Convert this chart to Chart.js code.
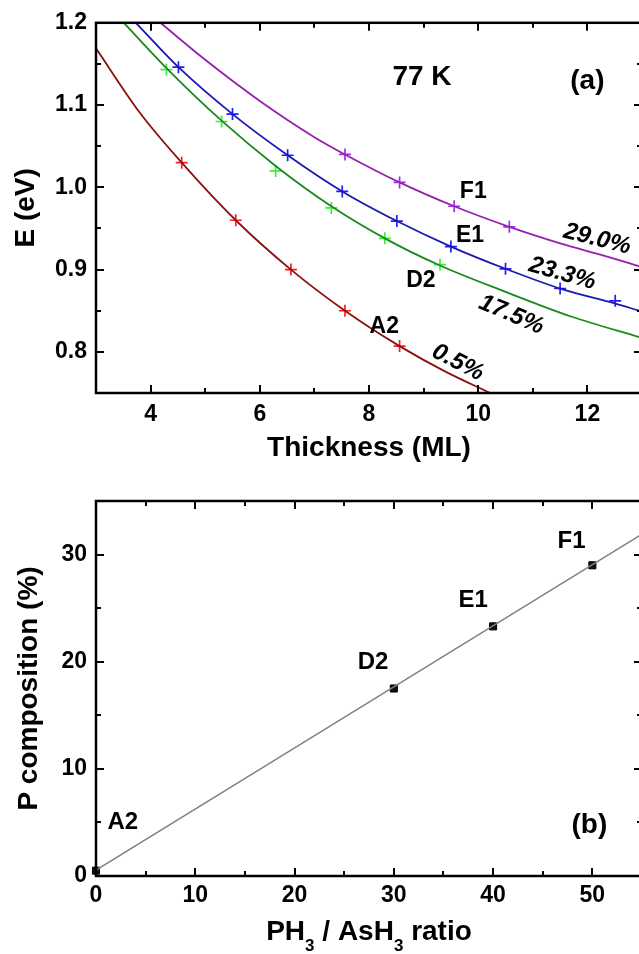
<!DOCTYPE html>
<html>
<head>
<meta charset="utf-8">
<script src="https://cdn.jsdelivr.net/npm/chart.js@4.4.0/dist/chart.umd.min.js"></script>
<style>
	html, body { margin: 0; padding: 0; background: #fff; overflow: hidden; }
	#topChart { position: absolute; left: 0; top: 0; }
	#bottomChart { position: absolute; left: 0; top: 470px; }
</style>
</head>
<body>
<canvas id="topChart" width="642" height="470"></canvas>
<canvas id="bottomChart" width="642" height="484"></canvas>
<script>
// ---- panel (a): transition energy vs thickness, 77 K ----
// fitted curves
var a2CurveX = [3, 3.8, 4.57, 5.56, 6.57, 7.56, 8.56, 9.4, 10.22];
var a2CurveE = [1.169, 1.091, 1.030, 0.960, 0.900, 0.850, 0.807, 0.776, 0.750];
var d2CurveX = [3.51, 4.29, 5.3, 6.29, 7.31, 8.29, 9.3, 10.5, 11.7, 12.95];
var d2CurveE = [1.2, 1.145, 1.081, 1.026, 0.977, 0.938, 0.905, 0.873, 0.843, 0.818];
var e1CurveX = [3.73, 4.51, 5.5, 6.51, 7.51, 8.51, 9.5, 10.5, 11.5, 12.5, 12.95];
var e1CurveE = [1.2, 1.146, 1.089, 1.039, 0.995, 0.959, 0.928, 0.901, 0.877, 0.859, 0.850];
var f1CurveX = [4.18, 5, 6, 7, 7.56, 8.56, 9.56, 10.57, 11.5, 12.3, 12.95];
var f1CurveE = [1.2, 1.155, 1.105, 1.061, 1.040, 1.006, 0.977, 0.952, 0.932, 0.917, 0.904];

// measured points (crosses)
var a2PtX = [4.57, 5.56, 6.57, 7.56, 8.56];
var a2PtE = [1.030, 0.960, 0.900, 0.850, 0.807];
var d2PtX = [4.29, 5.30, 6.29, 7.31, 8.29, 9.30];
var d2PtE = [1.143, 1.080, 1.020, 0.975, 0.938, 0.906];
var e1PtX = [4.51, 5.50, 6.51, 7.51, 8.51, 9.50, 10.50, 11.5, 12.51];
var e1PtE = [1.146, 1.089, 1.039, 0.995, 0.959, 0.928, 0.901, 0.877, 0.862];
var f1PtX = [7.56, 8.56, 9.56, 10.57];
var f1PtE = [1.040, 1.006, 0.977, 0.952];

var thickTicks = [4, 6, 8, 10, 12];
var thickMinor = [5, 7, 9, 11];
var energyTicks = [0.8, 0.9, 1.0, 1.1, 1.2];
var energyMinor = [0.85, 0.95, 1.05, 1.15];

// ---- panel (b): P composition vs PH3/AsH3 ratio ----
var sampleNames = ['A2', 'D2', 'E1', 'F1'];
var ratioVals = [0, 30, 40, 50];
var pCompVals = [0.5, 17.5, 23.3, 29.0];
var fitRatio = [0, 55];
var fitPComp = [0.55, 31.9];

var ratioTicks = [0, 10, 20, 30, 40, 50];
var ratioMinor = [5, 15, 25, 35, 45];
var pTicks = [0, 10, 20, 30];
var pMinor = [5, 15, 25];

var FONT = "'Liberation Sans', Arial, sans-serif";

function pairs(xs, ys) {
	return xs.map(function (x, i) { return {x: x, y: ys[i]}; });
}

function fixedTicks(list) {
	return function (scale) {
		scale.ticks = list.map(function (v) { return {value: v}; });
	};
}

// box frame with inward ticks on all four sides
var frameTicks = {
	id: 'frameTicks',
	afterDraw: function (chart, args, opts) {
		var ctx = chart.ctx, a = chart.chartArea;
		var xs = chart.scales.x, ys = chart.scales.y;
		ctx.save();
		ctx.strokeStyle = '#000';
		ctx.lineWidth = 2;
		function seg(x1, y1, x2, y2) {
			ctx.beginPath(); ctx.moveTo(x1, y1); ctx.lineTo(x2, y2); ctx.stroke();
		}
		function xTicks(vals, len) {
			vals.forEach(function (v) {
				var p = Math.round(xs.getPixelForValue(v));
				seg(p, a.bottom, p, a.bottom - len);
				seg(p, a.top, p, a.top + len);
			});
		}
		function yTicks(vals, len) {
			vals.forEach(function (v) {
				var p = Math.round(ys.getPixelForValue(v));
				seg(a.left, p, a.left + len, p);
				seg(a.right, p, a.right - len, p);
			});
		}
		xTicks(opts.xMajor, 8); xTicks(opts.xMinor, 5);
		yTicks(opts.yMajor, 8); yTicks(opts.yMinor, 5);
		ctx.lineWidth = 2.5;
		ctx.strokeRect(a.left, a.top, a.right - a.left, a.bottom - a.top);
		ctx.restore();
	}
};

// free text placed in data coordinates
var textNotes = {
	id: 'textNotes',
	afterDraw: function (chart, args, opts) {
		var ctx = chart.ctx, xs = chart.scales.x, ys = chart.scales.y;
		(opts.items || []).forEach(function (n) {
			ctx.save();
			ctx.translate(xs.getPixelForValue(n.x), ys.getPixelForValue(n.y));
			if (n.angle) ctx.rotate(n.angle * Math.PI / 180);
			ctx.font = (n.italic ? 'italic ' : '') + 'bold ' + n.size + 'px ' + FONT;
			ctx.fillStyle = '#000';
			ctx.textAlign = 'center';
			ctx.textBaseline = 'middle';
			ctx.fillText(n.text, 0, 0);
			ctx.restore();
		});
	}
};

// x title with subscripts: PH3 / AsH3 ratio
var ratioTitle = {
	id: 'ratioTitle',
	afterDraw: function (chart) {
		var ctx = chart.ctx, a = chart.chartArea;
		var parts = [['PH', 0], ['3', 1], [' / AsH', 0], ['3', 1], [' ratio', 0]];
		var big = 'bold 28px ' + FONT, small = 'bold 17px ' + FONT;
		ctx.save();
		var total = 0;
		parts.forEach(function (p) { ctx.font = p[1] ? small : big; total += ctx.measureText(p[0]).width; });
		var x = (a.left + a.right) / 2 - total / 2, base = 470;
		ctx.fillStyle = '#000';
		ctx.textBaseline = 'alphabetic';
		ctx.textAlign = 'left';
		parts.forEach(function (p) {
			ctx.font = p[1] ? small : big;
			ctx.fillText(p[0], x, p[1] ? base + 11 : base);
			x += ctx.measureText(p[0]).width;
		});
		ctx.restore();
	}
};

function tickFont() { return {family: FONT, size: 23, weight: 'bold'}; }
function titleFont() { return {family: FONT, size: 28, weight: 'bold'}; }

function curveSet(xs, ys, color) {
	return {data: pairs(xs, ys), showLine: true, borderColor: color, borderWidth: 1.8,
		pointRadius: 0, cubicInterpolationMode: 'monotone', fill: false};
}
function crossSet(xs, ys, color) {
	return {data: pairs(xs, ys), showLine: false, pointStyle: 'cross', pointRadius: 6,
		pointBorderColor: color, pointBorderWidth: 1.7, borderColor: color, clip: false};
}

new Chart(document.getElementById('topChart').getContext('2d'), {
	type: 'scatter',
	data: {
		datasets: [
			curveSet(a2CurveX, a2CurveE, '#8b1212'),
			curveSet(d2CurveX, d2CurveE, '#1a8a1a'),
			curveSet(e1CurveX, e1CurveE, '#1a1aae'),
			curveSet(f1CurveX, f1CurveE, '#9622ac'),
			crossSet(a2PtX, a2PtE, '#ff1c1c'),
			crossSet(d2PtX, d2PtE, '#3cf03c'),
			crossSet(e1PtX, e1PtE, '#1f1fff'),
			crossSet(f1PtX, f1PtE, '#9b30f0')
		]
	},
	plugins: [frameTicks, textNotes],
	options: {
		responsive: false,
		animation: false,
		events: [],
		layout: {autoPadding: false, padding: {top: 19, left: 0, right: 0, bottom: 0}},
		plugins: {
			legend: {display: false},
			tooltip: {enabled: false},
			frameTicks: {xMajor: thickTicks, xMinor: thickMinor, yMajor: energyTicks, yMinor: energyMinor},
			textNotes: {items: [
				{text: '77 K', x: 8.97, y: 1.134, size: 28},
				{text: '(a)', x: 12.0, y: 1.129, size: 28},
				{text: 'F1', x: 9.91, y: 0.995, size: 23},
				{text: 'E1', x: 9.85, y: 0.941, size: 23},
				{text: 'D2', x: 8.95, y: 0.887, size: 23},
				{text: 'A2', x: 8.28, y: 0.831, size: 23},
				{text: '29.0%', x: 12.18, y: 0.937, size: 24, italic: true, angle: 14},
				{text: '23.3%', x: 11.54, y: 0.895, size: 24, italic: true, angle: 16},
				{text: '17.5%', x: 10.61, y: 0.845, size: 24, italic: true, angle: 23},
				{text: '0.5%', x: 9.63, y: 0.787, size: 24, italic: true, angle: 27}
			]}
		},
		scales: {
			x: {
				type: 'linear', min: 3, max: 13,
				afterBuildTicks: fixedTicks(thickTicks),
				afterFit: function (s) { s.height = 77; },
				grid: {display: false, drawTicks: false},
				border: {display: false},
				ticks: {padding: 8, color: '#000', font: tickFont()},
				title: {display: true, text: 'Thickness (ML)', color: '#000', font: titleFont(), padding: {top: 0, bottom: 5}}
			},
			y: {
				type: 'linear', min: 0.75, max: 1.2,
				afterBuildTicks: fixedTicks(energyTicks),
				afterFit: function (s) { s.width = 96; },
				grid: {display: false, drawTicks: false},
				border: {display: false},
				ticks: {padding: 9, color: '#000', font: tickFont(),
					callback: function (v) { return v.toFixed(1); }},
				title: {display: true, text: 'E (eV)', color: '#000', font: titleFont(), padding: {top: 9, bottom: 0}}
			}
		}
	}
});

new Chart(document.getElementById('bottomChart').getContext('2d'), {
	type: 'scatter',
	data: {
		datasets: [
			{data: pairs(fitRatio, fitPComp), showLine: true, borderColor: '#808080', borderWidth: 1.5,
				pointRadius: 0, fill: false},
			{data: pairs(ratioVals, pCompVals), showLine: false, pointStyle: 'rect', pointRadius: 5,
				backgroundColor: '#111', borderColor: '#000', pointBorderWidth: 1, clip: false}
		]
	},
	plugins: [frameTicks, textNotes, ratioTitle],
	options: {
		responsive: false,
		animation: false,
		events: [],
		layout: {autoPadding: false, padding: {top: 31, left: 0, right: 0, bottom: 0}},
		plugins: {
			legend: {display: false},
			tooltip: {enabled: false},
			frameTicks: {xMajor: ratioTicks, xMinor: ratioMinor, yMajor: pTicks, yMinor: pMinor},
			textNotes: {items: [
				{text: sampleNames[0], x: 2.7, y: 4.97, size: 24},
				{text: sampleNames[1], x: 27.9, y: 19.9, size: 24},
				{text: sampleNames[2], x: 38.0, y: 25.7, size: 24},
				{text: sampleNames[3], x: 47.9, y: 31.2, size: 24},
				{text: '(b)', x: 49.7, y: 4.7, size: 28}
			]}
		},
		scales: {
			x: {
				type: 'linear', min: 0, max: 55,
				afterBuildTicks: fixedTicks(ratioTicks),
				afterFit: function (s) { s.height = 78; },
				grid: {display: false, drawTicks: false},
				border: {display: false},
				ticks: {padding: 6, color: '#000', font: tickFont()}
			},
			y: {
				type: 'linear', min: 0, max: 35,
				afterBuildTicks: fixedTicks(pTicks),
				afterFit: function (s) { s.width = 96; },
				grid: {display: false, drawTicks: false},
				border: {display: false},
				ticks: {padding: 9, color: '#000', font: tickFont()},
				title: {display: true, text: 'P composition (%)', color: '#000', font: titleFont(), padding: {top: 12, bottom: 0}}
			}
		}
	}
});
</script>
</body>
</html>
